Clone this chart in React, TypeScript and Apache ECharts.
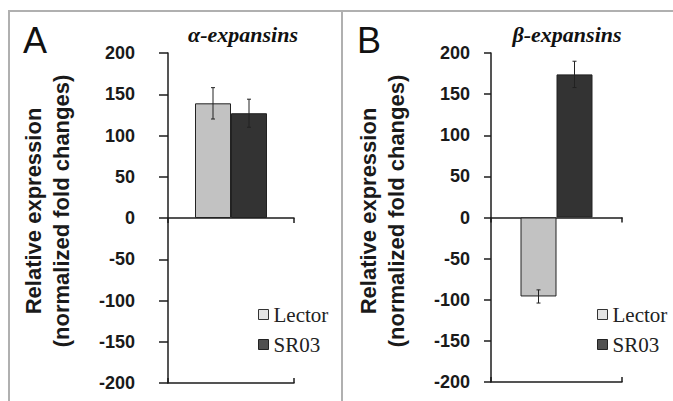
import React, { useEffect, useRef } from "react";
import * as echarts from "echarts";

const seriesNames = ["Lector", "SR03"];
const panelTitles = ["α-expansins", "β-expansins"];
const panelLetters = ["A", "B"];
const categoriesA = ["α-expansins"];
const categoriesB = ["β-expansins"];
const lectorA = [139];
const sr03A = [127];
const lectorErrA = [19];
const sr03ErrA = [17];
const lectorB = [-96];
const sr03B = [174];
const lectorErrB = [8];
const sr03ErrB = [16];
const yMin = -200;
const yMax = 200;
const yInterval = 50;
const yNameLines = ["Relative expression", "(normalized fold changes)"];

const BAR_W = 36;
const AXIS_COLOR = "#1c1c1c";
const LECTOR_COLOR = "#c2c2c2";
const SR03_COLOR = "#333333";

function errData(vals: number[], errs: number[]) {
  return vals.map((v, i) => [i, v - errs[i], v + errs[i]]);
}

function errSeries(name: string, data: number[][], xi: number, yi: number, offset: number) {
  return {
    type: "custom",
    name: name + " error",
    xAxisIndex: xi,
    yAxisIndex: yi,
    data,
    encode: { x: 0, y: [1, 2] },
    z: 10,
    silent: true,
    renderItem: (_params: any, api: any) => {
      const cat = api.value(0);
      const lo = api.value(1);
      const hi = api.value(2);
      const p1 = api.coord([cat, hi]);
      const p2 = api.coord([cat, lo]);
      const x = p1[0] + offset;
      const st = { stroke: "#222", lineWidth: 1 };
      return {
        type: "group",
        children: [
          { type: "line", shape: { x1: x, y1: p1[1], x2: x, y2: p2[1] }, style: st },
          { type: "line", shape: { x1: x - 2, y1: p1[1], x2: x + 2, y2: p1[1] }, style: st },
          { type: "line", shape: { x1: x - 2, y1: p2[1], x2: x + 2, y2: p2[1] }, style: st },
        ],
      };
    },
  };
}

function xAxes(gridIndex: number, cats: string[]) {
  const base = {
    type: "category",
    gridIndex,
    data: cats,
    position: "bottom",
    axisLine: { onZero: true, lineStyle: { color: AXIS_COLOR, width: 1.5 } },
    axisLabel: { show: false },
    splitLine: { show: false },
  };
  return [
    { ...base, axisTick: { show: true, inside: false, length: 5, lineStyle: { color: AXIS_COLOR, width: 1.5 } } },
    { ...base, axisTick: { show: true, inside: true, length: 5, lineStyle: { color: AXIS_COLOR, width: 1.5 } } },
  ];
}

function yAxis(gridIndex: number, tickLen: number, margin: number) {
  return {
    type: "value",
    gridIndex,
    min: yMin,
    max: yMax,
    interval: yInterval,
    axisLine: { show: true, lineStyle: { color: AXIS_COLOR, width: 1.5 } },
    axisTick: { show: true, length: tickLen, lineStyle: { color: AXIS_COLOR, width: 1.5 } },
    axisLabel: {
      margin,
      fontFamily: "Liberation Sans",
      fontWeight: "bold",
      fontSize: 18,
      color: "#1a1a1a",
    },
    splitLine: { show: false },
  };
}

function legend(left: number) {
  return {
    orient: "vertical",
    left,
    top: 299,
    itemWidth: 10,
    itemHeight: 10,
    itemGap: 9,
    icon: "rect",
    selectedMode: false,
    textStyle: { fontFamily: "Liberation Serif", fontSize: 21, color: "#222" },
    data: [
      { name: seriesNames[0], itemStyle: { color: "#e4e4e4", borderColor: "#333", borderWidth: 1 } },
      { name: seriesNames[1], itemStyle: { color: "#505050", borderColor: "#222", borderWidth: 1 } },
    ],
  };
}

function barSeries(name: string, data: number[], color: string, xi: number, yi: number) {
  return {
    type: "bar",
    name,
    xAxisIndex: xi,
    yAxisIndex: yi,
    data,
    barWidth: BAR_W,
    barGap: "0%",
    itemStyle: { color, borderColor: "#222", borderWidth: 1 },
  };
}

export default function App() {
  const ref = useRef<HTMLDivElement>(null);
  useEffect(() => {
    if (!ref.current) return;
    const chart = echarts.init(ref.current, null, { renderer: "svg" });
    const borderStyle = { stroke: "#b0b0b0", lineWidth: 2 };
    const option: any = {
      animation: false,
      backgroundColor: "#ffffff",
      grid: [
        { left: 168, top: 53, width: 126, height: 330 },
        { left: 491, top: 53, width: 131, height: 329 },
      ],
      xAxis: [...xAxes(0, categoriesA), ...xAxes(1, categoriesB)],
      yAxis: [yAxis(0, 9, 33), yAxis(1, 7, 21)],
      legend: [legend(253), legend(592)],
      series: [
        barSeries(seriesNames[0], lectorA, LECTOR_COLOR, 0, 0),
        barSeries(seriesNames[1], sr03A, SR03_COLOR, 0, 0),
        errSeries(seriesNames[0], errData(lectorA, lectorErrA), 0, 0, -BAR_W / 2),
        errSeries(seriesNames[1], errData(sr03A, sr03ErrA), 0, 0, BAR_W / 2),
        barSeries(seriesNames[0], lectorB, LECTOR_COLOR, 2, 1),
        barSeries(seriesNames[1], sr03B, SR03_COLOR, 2, 1),
        errSeries(seriesNames[0], errData(lectorB, lectorErrB), 2, 1, -BAR_W / 2),
        errSeries(seriesNames[1], errData(sr03B, sr03ErrB), 2, 1, BAR_W / 2),
      ],
      graphic: [
        { type: "line", shape: { x1: 9, y1: 11, x2: 673, y2: 11 }, style: borderStyle, silent: true },
        { type: "line", shape: { x1: 9, y1: 10, x2: 9, y2: 401 }, style: borderStyle, silent: true },
        { type: "line", shape: { x1: 342, y1: 10, x2: 342, y2: 401 }, style: borderStyle, silent: true },
        {
          type: "text", x: 23, y: 40,
          style: { text: panelLetters[0], fontFamily: "Liberation Sans", fontSize: 36, fill: "#111", verticalAlign: "middle", align: "left" },
        },
        {
          type: "text", x: 357, y: 40,
          style: { text: panelLetters[1], fontFamily: "Liberation Sans", fontSize: 36, fill: "#111", verticalAlign: "middle", align: "left" },
        },
        {
          type: "text", x: 243, y: 34,
          style: { text: panelTitles[0], fontFamily: "Liberation Serif", fontStyle: "italic", fontWeight: "bold", fontSize: 22, fill: "#111", align: "center", verticalAlign: "middle" },
        },
        {
          type: "text", x: 567, y: 34,
          style: { text: panelTitles[1], fontFamily: "Liberation Serif", fontStyle: "italic", fontWeight: "bold", fontSize: 22, fill: "#111", align: "center", verticalAlign: "middle" },
        },
        {
          type: "text", x: 47, y: 211, rotation: Math.PI / 2,
          style: { text: yNameLines.join("\n"), fontFamily: "Liberation Sans", fontWeight: "bold", fontSize: 22, lineHeight: 28, fill: "#1a1a1a", align: "center", verticalAlign: "middle" },
        },
        {
          type: "text", x: 382, y: 211, rotation: Math.PI / 2,
          style: { text: yNameLines.join("\n"), fontFamily: "Liberation Sans", fontWeight: "bold", fontSize: 22, lineHeight: 28, fill: "#1a1a1a", align: "center", verticalAlign: "middle" },
        },
      ],
    };
    chart.setOption(option);
    return () => chart.dispose();
  }, []);
  return (
    <div
      ref={ref}
      style={{ position: "fixed", left: 0, top: 0, width: 673, height: 401 }}
    />
  );
}
